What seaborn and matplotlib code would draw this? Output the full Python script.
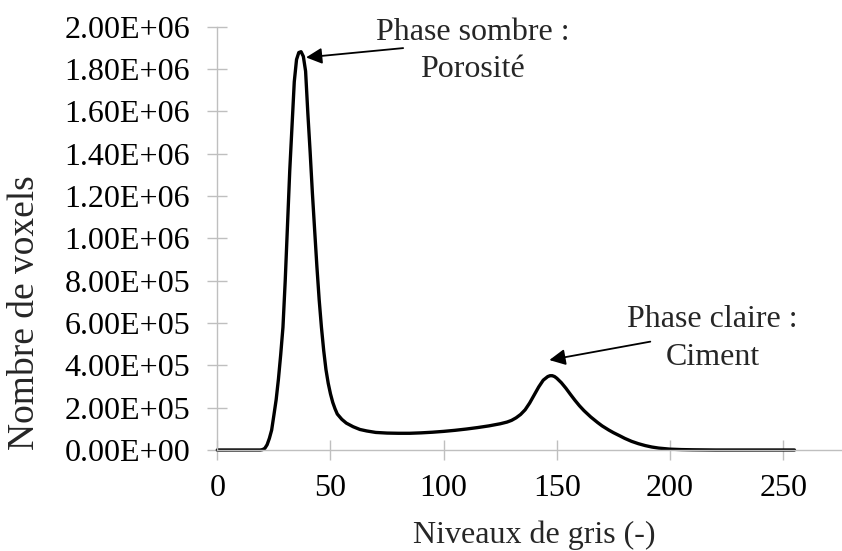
import matplotlib
matplotlib.use("Agg")
import matplotlib.pyplot as plt
import seaborn as sns
import pandas as pd
from matplotlib.ticker import FuncFormatter, MultipleLocator

# Grey-level histogram of the CT volume
grey_levels = [0, 10, 19, 20, 21, 22, 23, 24, 25, 26, 27, 28, 29, 30, 31, 32, 33,
               34, 35, 36, 37, 38, 39, 40, 41, 42, 43, 44, 45, 46, 47, 48, 49,
               50, 51, 52, 53, 55, 57, 60, 63, 66, 70, 75, 80, 85, 90, 95, 100,
               105, 110, 115, 120, 125, 128, 130, 132, 134, 136, 138, 140, 142,
               144, 146, 147, 148, 149, 150, 152, 154, 156, 158, 160, 162, 165,
               168, 170, 173, 175, 178, 180, 183, 186, 189, 192, 195, 200, 205,
               210, 220, 230, 240, 255]
voxel_counts = [0, 0, 0, 2e3, 8e3, 25e3, 55e3, 94e3, 165e3, 238e3, 335e3, 450e3,
                580e3, 800e3, 1060e3, 1320e3, 1530e3, 1740e3, 1845e3, 1878e3,
                1882e3, 1860e3, 1790e3, 1590e3, 1410e3, 1215e3, 1039e3, 866e3,
                710e3, 580e3, 470e3, 380e3, 315e3, 265e3, 225e3, 195e3, 170e3,
                145e3, 127e3, 110e3, 97e3, 90e3, 83e3, 80e3, 79e3, 79e3, 81e3,
                84e3, 88e3, 93e3, 99e3, 106e3, 114e3, 124e3, 132e3, 140e3, 152e3,
                168e3, 190e3, 222e3, 260e3, 298e3, 330e3, 347e3, 351e3, 351e3,
                347e3, 339e3, 318e3, 292e3, 263e3, 235e3, 209e3, 186e3, 156e3,
                130e3, 114e3, 94e3, 82e3, 66e3, 55e3, 41e3, 30e3, 21e3, 14e3, 9e3,
                4e3, 2e3, 1e3, 0, 0, 0, 0]

x_ticks = [0, 50, 100, 150, 200, 250]

df = pd.DataFrame({"niveau": grey_levels, "voxels": voxel_counts})

sns.set_style("white")
plt.rcParams["font.family"] = ["Liberation Serif", "DejaVu Serif"]
plt.rcParams["font.size"] = 23

fig = plt.figure(figsize=(8.42, 5.51), dpi=100)
ax = fig.add_axes([0.2581, 0.1833, 0.7419, 0.7682])

sns.lineplot(data=df, x="niveau", y="voxels", ax=ax, color="black",
             linewidth=2.4, clip_on=False)

ax.set_xlim(0, 276)
ax.set_ylim(0, 2.0e6)
ax.set_xticks(x_ticks)
ax.yaxis.set_major_locator(MultipleLocator(2e5))
ax.yaxis.set_major_formatter(FuncFormatter(lambda v, p: f"{v:.2E}"))

grid_grey = "#BFBFBF"
for side in ("top", "right"):
    ax.spines[side].set_visible(False)
for side in ("left", "bottom"):
    ax.spines[side].set_color(grid_grey)
    ax.spines[side].set_linewidth(1.0)
ax.tick_params(axis="both", direction="inout", length=15, width=1.0,
               color=grid_grey, labelcolor="black", labelsize=23,
               left=True, bottom=True)
ax.tick_params(axis="y", pad=12)
ax.tick_params(axis="x", pad=10)

ax.set_xlabel("")
ax.set_ylabel("")
fig.text(534 / 842, 1 - 543.3 / 551, "Niveaux de gris (-)", ha="center",
         va="baseline", fontsize=23)
fig.text(25 / 842, 1 - 313 / 551, "Nombre de voxels", ha="center",
         va="center", rotation=90, fontsize=27)

# Phase labels with arrows pointing at both peaks
arrow = dict(arrowstyle="-|>", color="black", lw=1.3, mutation_scale=24,
             shrinkA=0, shrinkB=0)
ax.annotate("", xy=(39.2, 1.855e6), xytext=(82.1, 1.899e6), arrowprops=arrow,
            annotation_clip=False)
ax.annotate("", xy=(146.7, 4.25e5), xytext=(191.3, 5.12e5), arrowprops=arrow,
            annotation_clip=False)

ax.text(112.8, 1.937e6, "Phase sombre :", ha="center", va="baseline",
        fontsize=23, clip_on=False)
ax.text(112.8, 1.762e6, "Porosité", ha="center", va="baseline", fontsize=23,
        clip_on=False)
ax.text(218.8, 5.826e5, "Phase claire :", ha="center", va="baseline",
        fontsize=23, clip_on=False)
ax.text(218.8, 4.016e5, "Ciment", ha="center", va="baseline", fontsize=23,
        clip_on=False)

fig.savefig("out.png", dpi=100)
